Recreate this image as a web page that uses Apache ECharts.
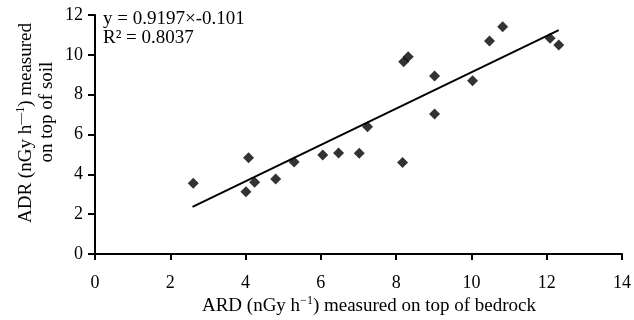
<!DOCTYPE html>
<html>
<head>
<meta charset="utf-8">
<script src="https://cdn.jsdelivr.net/npm/echarts@6/dist/echarts.min.js"></script>
<style>html,body{margin:0;padding:0;background:#fff}#c{width:634px;height:320px}</style>
</head>
<body>
<div id="c"></div>
<script>
// ARD (x) measured on top of bedrock, ADR (y) measured on top of soil
const ardValues = [2.61, 4.08, 4.01, 4.24, 4.80, 5.29, 6.05, 6.47, 7.02, 8.17, 7.24, 9.02, 9.02, 10.03, 8.20, 8.32, 10.48, 10.83, 12.09, 12.32];
const adrValues = [3.55, 4.83, 3.13, 3.60, 3.77, 4.62, 4.97, 5.07, 5.06, 4.60, 6.39, 7.03, 8.94, 8.70, 9.65, 9.90, 10.69, 11.41, 10.83, 10.49];
// trend line end points
const trendX = [2.59, 12.32];
const trendY = [2.37, 11.24];
const xTicks = [0, 2, 4, 6, 8, 10, 12, 14];
const yTicks = [0, 2, 4, 6, 8, 10, 12];
const equationText = 'y = 0.9197×-0.101';
const r2Text = 'R² = 0.8037';

const FONT = 'Liberation Serif';
const points = ardValues.map((x, i) => [x, adrValues[i]]);
const trend = trendX.map((x, i) => [x, trendY[i]]);

const chart = echarts.init(document.getElementById('c'), null, {renderer: 'canvas'});
const supRich = {
  n: {fontFamily: FONT, fontSize: 19, color: '#000', lineHeight: 22},
  s: {fontFamily: FONT, fontSize: 12, color: '#000', verticalAlign: 'top', lineHeight: 22}
};
chart.setOption({
  animation: false,
  backgroundColor: '#fff',
  grid: {left: 95, right: 7, top: 15, bottom: 66, containLabel: false},
  xAxis: {
    type: 'value', min: xTicks[0], max: xTicks[xTicks.length - 1], interval: 2,
    axisLine: {show: true, onZero: false, lineStyle: {color: '#000', width: 2}},
    axisTick: {show: true, length: 6, lineStyle: {color: '#000', width: 2}},
    axisLabel: {color: '#000', fontFamily: FONT, fontSize: 18, margin: 20},
    splitLine: {show: false}
  },
  yAxis: {
    type: 'value', min: yTicks[0], max: yTicks[yTicks.length - 1], interval: 2,
    axisLine: {show: true, onZero: false, lineStyle: {color: '#000', width: 2}},
    axisTick: {show: true, length: 7, lineStyle: {color: '#000', width: 2}},
    axisLabel: {color: '#000', fontFamily: FONT, fontSize: 18, margin: 12},
    splitLine: {show: false}
  },
  series: [
    {
      type: 'scatter', data: points, symbol: 'diamond', symbolSize: 11,
      itemStyle: {color: '#000'}, z: 3
    },
    {
      type: 'line', data: trend, showSymbol: false, symbol: 'none',
      lineStyle: {color: '#000', width: 2}, z: 2
    }
  ],
  graphic: [
    {type: 'text', left: 103, top: 10, style: {text: equationText, fontFamily: FONT, fontSize: 19, fill: '#000'}},
    {type: 'text', left: 103, top: 29, style: {text: r2Text, fontFamily: FONT, fontSize: 19, fill: '#000'}},
    {type: 'text', x: 369, y: 306, style: {
      text: '{n|ARD (nGy h}{s|−1}{n|) measured on top of bedrock}',
      rich: supRich, align: 'center', verticalAlign: 'middle'}},
    {type: 'text', x: 26, y: 123, rotation: Math.PI / 2, style: {
      text: '{n|ADR (nGy h}{s|—1}{n|) measured}',
      rich: supRich, align: 'center', verticalAlign: 'middle'}},
    {type: 'text', x: 47, y: 112, rotation: Math.PI / 2, style: {
      text: 'on top of soil', fontFamily: FONT, fontSize: 19, fill: '#000',
      align: 'center', verticalAlign: 'middle'}}
  ]
});
</script>
</body>
</html>
